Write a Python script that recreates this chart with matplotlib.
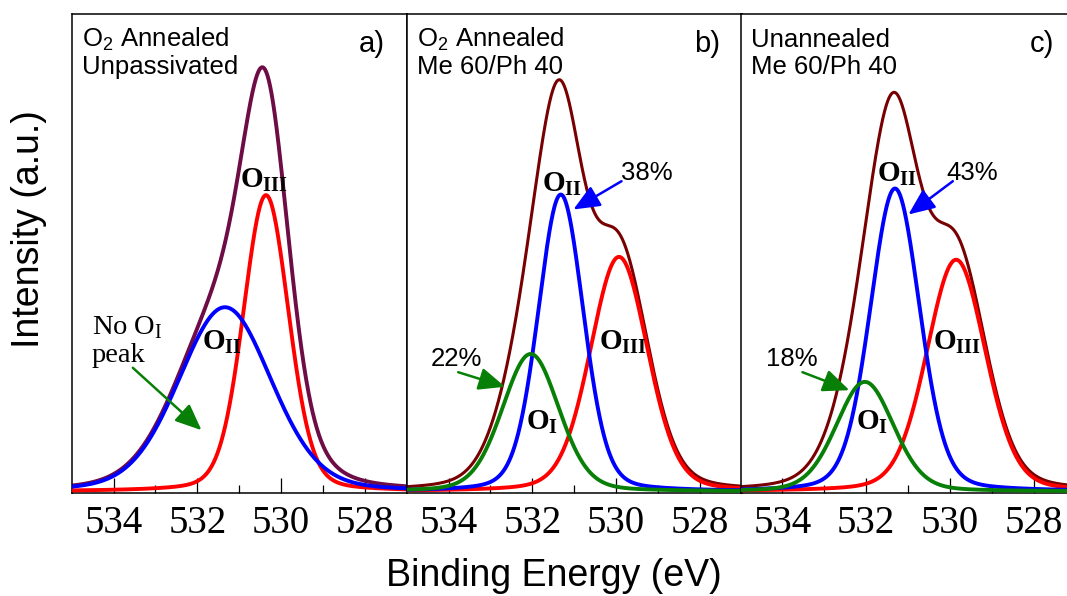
import numpy as np
import matplotlib
matplotlib.use("Agg")
import matplotlib.pyplot as plt
from matplotlib.ticker import MultipleLocator

plt.rcParams['mathtext.fontset'] = 'custom'
plt.rcParams['mathtext.rm'] = 'Liberation Serif'
plt.rcParams['mathtext.bf'] = 'Liberation Serif:bold'
plt.rcParams['mathtext.sf'] = 'Liberation Sans'

# O 1s peak fits: centre (eV), FWHM (eV), share of the fitted area (%)
a_centers = [531.34, 530.36]
a_fwhm = [2.62, 1.28]
a_area_pct = [56, 44]
a_total_area = 1005

b_centers = [532.04, 531.32, 529.93]
b_fwhm = [1.60, 1.28, 1.62]
b_area_pct = [22, 38, 38]
b_total_area = 1166

c_centers = [532.03, 531.31, 529.85]
c_fwhm = [1.62, 1.40, 1.66]
c_area_pct = [18, 43, 39]
c_total_area = 1150

lorentz_frac = 0.2

a_names = ['II', 'III']
bc_names = ['I', 'II', 'III']
colors = {'I': '#088008', 'II': '#0000ff', 'III': '#ff0000'}

energy = np.linspace(535, 527, 1601)


def pseudo_voigt(x, center, fwhm, area):
    """Gaussian-Lorentzian sum line shape with a given area"""
    shape_area = fwhm * ((1 - lorentz_frac) * np.sqrt(np.pi / (4 * np.log(2)))
                         + lorentz_frac * np.pi / 2)
    h = area / shape_area
    d2 = 4 * (x - center) ** 2 / fwhm ** 2
    return h * ((1 - lorentz_frac) * np.exp(-np.log(2) * d2) + lorentz_frac / (1 + d2))


def draw_panel(ax, centers, fwhm, pct, total, names, env_color, env_lw):
    comps = {}
    for c, w, p, n in zip(centers, fwhm, pct, names):
        comps[n] = pseudo_voigt(energy, c, w, total * p / 100)
    envelope = sum(comps.values())
    ax.plot(energy, envelope, color=env_color, lw=env_lw, zorder=2)
    for n in ['III', 'II', 'I']:
        if n in comps:
            ax.plot(energy, comps[n], color=colors[n], lw=2.8, zorder=3)


fig = plt.figure(figsize=(10.67, 5.96), dpi=100)
W, H = 1067, 596
ax_w = 335 / W
ax_b = (596 - 492.5) / H
ax_h = 478.5 / H
lefts = [71.7, 406.7, 740.5]
axes = [fig.add_axes([l / W, ax_b, ax_w, ax_h]) for l in lefts]

draw_panel(axes[0], a_centers, a_fwhm, a_area_pct, a_total_area, a_names, '#6e0c46', 2.8)
draw_panel(axes[1], b_centers, b_fwhm, b_area_pct, b_total_area, bc_names, '#780000', 2.2)
draw_panel(axes[2], c_centers, c_fwhm, c_area_pct, c_total_area, bc_names, '#780000', 2.2)

for ax in axes:
    ax.set_xlim(535, 527)
    ax.set_ylim(-1, 477.5)
    ax.xaxis.set_major_locator(MultipleLocator(2))
    ax.xaxis.set_minor_locator(MultipleLocator(1))
    ax.tick_params(axis='x', which='major', direction='in', length=10.5, width=0.9,
                   pad=9, labelsize=28, top=False)
    ax.tick_params(axis='x', which='minor', direction='in', length=6, width=0.9, top=False)
    ax.tick_params(axis='y', left=False, labelleft=False)
    for lab in ax.get_xticklabels():
        lab.set_family('Liberation Serif')
    for sp in ax.spines.values():
        sp.set_linewidth(1.1)

# sample descriptions and panel letters
notes = [('O$_\\mathsf{2}$ Annealed', 'Unpassivated', 'a)'),
         ('O$_\\mathsf{2}$ Annealed', 'Me 60/Ph 40', 'b)'),
         ('Unannealed', 'Me 60/Ph 40', 'c)')]
for ax, (l1, l2, tag) in zip(axes, notes):
    ax.text(0.030, 0.9317, l1, transform=ax.transAxes, fontsize=18.5,
            family='Liberation Sans', va='baseline')
    ax.text(0.030, 0.8746, l2, transform=ax.transAxes, fontsize=18.5,
            family='Liberation Sans', va='baseline')
    ax.text(0.935, 0.9206, tag, transform=ax.transAxes, fontsize=21,
            family='Liberation Sans', va='baseline', ha='right')

peak_font = dict(fontsize=21, va='baseline', ha='left')
# panel a
axes[0].text(530.98, 304, r'$\mathbf{O_{III}}$', **peak_font)
axes[0].text(531.90, 142, r'$\mathbf{O_{II}}$', **peak_font)
axes[0].text(534.52, 157, r'No O$_\mathrm{I}$', fontsize=20.5, family='Liberation Serif',
             va='baseline')
axes[0].text(534.52, 129, 'peak', fontsize=20.5, family='Liberation Serif', va='baseline')
# panel b
axes[1].text(531.78, 300, r'$\mathbf{O_{II}}$', **peak_font)
axes[1].text(530.41, 142, r'$\mathbf{O_{III}}$', **peak_font)
axes[1].text(532.15, 62, r'$\mathbf{O_{I}}$', **peak_font)
# panel c
axes[2].text(531.75, 310, r'$\mathbf{O_{II}}$', **peak_font)
axes[2].text(530.40, 142, r'$\mathbf{O_{III}}$', **peak_font)
axes[2].text(532.24, 62, r'$\mathbf{O_{I}}$', **peak_font)

pct_font = dict(fontsize=18.5, family='Liberation Sans', ha='center', va='center')
axes[1].text(529.26, 318, f'{b_area_pct[1]}%', **pct_font)
axes[1].text(533.82, 132, f'{b_area_pct[0]}%', **pct_font)
axes[2].text(529.47, 318, f'{c_area_pct[1]}%', **pct_font)
axes[2].text(533.77, 132, f'{c_area_pct[0]}%', **pct_font)


def arrow(ax, start, tip, color):
    ax.annotate('', xy=tip, xytext=start,
                arrowprops=dict(arrowstyle='-|>,head_length=0.7,head_width=0.3',
                                mutation_scale=23, color=color, lw=1.8,
                                shrinkA=0, shrinkB=0))


arrow(axes[0], (533.54, 123.7), (531.90, 61.3), colors['I'])
arrow(axes[1], (529.87, 310.3), (531.02, 282), colors['II'])
arrow(axes[1], (533.77, 119.3), (532.65, 104.7), colors['I'])
arrow(axes[2], (529.93, 310.3), (530.99, 277), colors['II'])
arrow(axes[2], (533.52, 119.3), (532.40, 101.3), colors['I'])

fig.text(28.7 / W, 1 - 229 / H, 'Intensity (a.u.)', rotation=90, fontsize=27,
         family='Liberation Sans', ha='center', va='center')
fig.text(554 / W, 1 - 576 / H, 'Binding Energy (eV)', fontsize=27,
         family='Liberation Sans', ha='center', va='center')

fig.savefig('out.png', dpi=100)
